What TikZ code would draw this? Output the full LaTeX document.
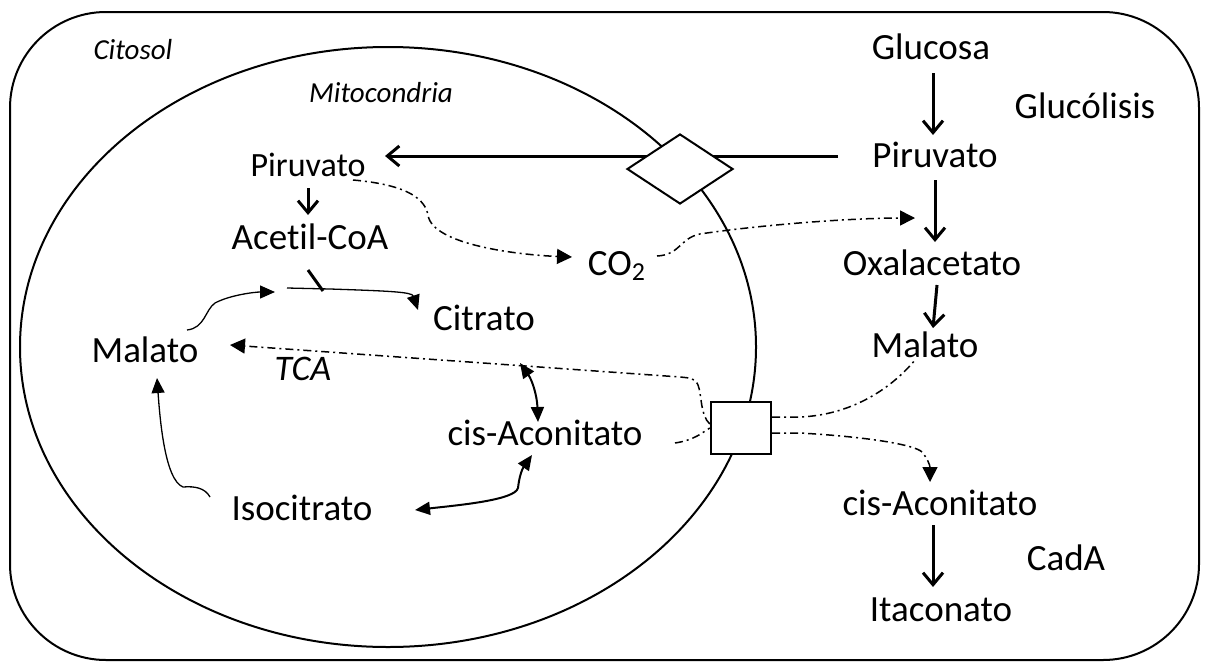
\documentclass[tikz,border=0pt]{standalone}
\usepackage{fontspec}
\setmainfont{Carlito}[Ligatures=NoCommon]
\usepackage{tikz}
\usetikzlibrary{
	shapes.geometric,
	arrows.meta,
	calc
}

\begin{document}
\begin{tikzpicture}[
			x=0.5pt, y=-0.5pt,
			met/.style={
				inner sep=0pt, anchor=base,
				font=\fontsize{18.5}{22}\selectfont
			},
			place/.style={
				inner sep=0pt, anchor=base,
				font=\fontsize{14.5}{17}\selectfont\itshape
			},
			fat/.style={-{Straight Barb[length=6pt,width=10pt,line width=1.5pt]}, line width=1.5pt},
			thin/.style={-{Triangle[length=7.5pt,width=6.5pt]}, line width=0.65pt},
			both/.style={{Triangle[length=7.5pt,width=6.5pt]}-{Triangle[length=7.5pt,width=6.5pt]}, line width=1pt},
			dd/.style={line width=0.75pt, dash pattern=on 4pt off 2pt on 1pt off 2pt},
			ddarrow/.style={dd, -{Triangle[length=7.5pt,width=7.5pt]}}
			]
			\useasboundingbox (0,0) rectangle (1208,664);
			
			% ---------------- compartments ----------------
			\draw[line width=1pt, rounded corners=48pt] (10,12) rectangle (1199,660);
			\draw[line width=1pt] (388,347) ellipse [x radius=184pt, y radius=150pt];
			\node[place] (cito) at (133,59) {Citosol};
			\node[place] (mito) at (381,102) {Mitocondria};
			
			% ---------------- cytosol pathway ----------------
			\node[met] (gluc) at (931,59) {Glucosa};
			\node[met] (glycol) at (1085,118) {Glucólisis};
			\node[met] (pirC) at (935,167) {Piruvato};
			\node[met] (oxa) at (932,275) {Oxalacetato};
			\node[met] (malC) at (925,357) {Malato};
			\node[met] (cisC) at (940,515) {cis-Aconitato};
			\node[met] (cada) at (1066,570) {CadA};
			\node[met] (ita) at (941,621) {Itaconato};
			
			\draw[fat] ($(gluc.base)+(2,14)$) -- ($(pirC.base)+(-2,-32)$);
			\draw[fat] ($(pirC.base)+(0,13)$) -- ($(oxa.base)+(3,-33)$);
			\draw[fat] ($(oxa.base)+(5,10)$) -- ($(malC.base)+(8,-29)$);
			\draw[fat] ($(cisC.base)+(-7,10)$) -- ($(ita.base)+(-8,-34)$);
			
			% ---------------- mitochondria ----------------
			\node[met, font=\fontsize{17}{20}\selectfont] (pirM) at (308,176) {Piruvato};
			\node[met] (acet) at (310,249) {Acetil-CoA};
			\node[met] (co2) at (617,275) {CO\textsubscript{2}};
			\node[met] (cit) at (484,330) {Citrato};
			\node[met] (malM) at (145,362) {Malato};
			\node[met, font=\fontsize{18}{22}\selectfont\itshape] (tca) at (303,380) {TCA};
			\node[met] (cisM) at (545,445) {cis-Aconitato};
			\node[met] (iso) at (302,520) {Isocitrato};
			
			\draw[fat] ($(pirM.base)+(0,12)$) -- ($(acet.base)+(-2,-34)$);
			
			% transport of pyruvate
			\draw[fat] ($(pirC.base)+(-97,-11)$) -- ($(pirM.base)+(77,-20)$);
			\node[diamond, draw, fill=white, line width=1pt, inner sep=0pt,
				minimum width=53pt, minimum height=35pt] (carrier) at (680,169) {};
			
			% TCA cycle
			\coordinate (jin) at (275,292);
			\coordinate (jout) at (287,288);
			\coordinate (cisTop) at (520,363);
			\draw[thin] ($(malM.base)+(42,-32)$) .. controls (205,328) and (205,310) .. (215,303)
				.. controls (230,295) and (255,292) .. (jin);
			\draw[thin] (jout) -- (330,289) .. controls (390,291) and (412,292) .. ($(cit.base)+(-66,-20)$);
			\draw[line width=1.5pt] ($(acet.base)+(-2,21)$) -- ($(acet.base)+(13,42)$);
			\draw[thin] ($(iso.base)+(-92,-23)$) .. controls (205,488) and (195,486) .. (183,487)
				.. controls (165,480) and (160,420) .. ($(malM.base)+(12,16)$);
			\draw[both] (cisTop) .. controls (532,380) and (537,395) .. ($(cisM.base)+(-7,-23)$);
			\draw[both] ($(iso.base)+(113,-10)$) .. controls (460,505) and (515,500) .. (518,488)
				.. controls (520,470) and (525,465) .. ($(cisM.base)+(-13,10)$);
			
			% ---------------- CO2 and transport ----------------
			\draw[ddarrow] ($(pirM.base)+(45,4)$) .. controls (410,185) and (425,200) .. (428,215)
				.. controls (432,245) and (520,255) .. ($(co2.base)+(-45,-18)$);
			\draw[ddarrow] ($(co2.base)+(40,-19)$) .. controls (680,255) and (680,238) .. (700,234)
				.. controls (760,225) and (850,218) .. ($(oxa.base)+(-17,-57)$);
			
			\node[rectangle, draw, fill=white, line width=1.2pt, inner sep=0pt,
				minimum width=30pt, minimum height=26pt] (sq) at (741,428) {};
			
			\draw[ddarrow] ($(sq.west)+(0,-4)$) .. controls (700,415) and (702,395) .. (698,385)
				.. controls (695,378) and (690,378) .. (680,377) -- ($(malM.base)+(85,-17)$);
			\draw[dd] ($(cisM.base)+(130,-2)$) .. controls (695,440) and (703,432) .. (sq.west);
			\draw[dd] ($(sq.east)+(0,-11)$) -- (800,417) .. controls (850,415) and (890,390) .. ($(malC.base)+(-10,3)$);
			\draw[ddarrow] ($(sq.east)+(0,5)$) -- (800,433) .. controls (870,437) and (915,445) .. (922,452)
				.. controls (927,458) and (930,465) .. ($(cisC.base)+(-10,-33)$);
		\end{tikzpicture}
\end{document}
